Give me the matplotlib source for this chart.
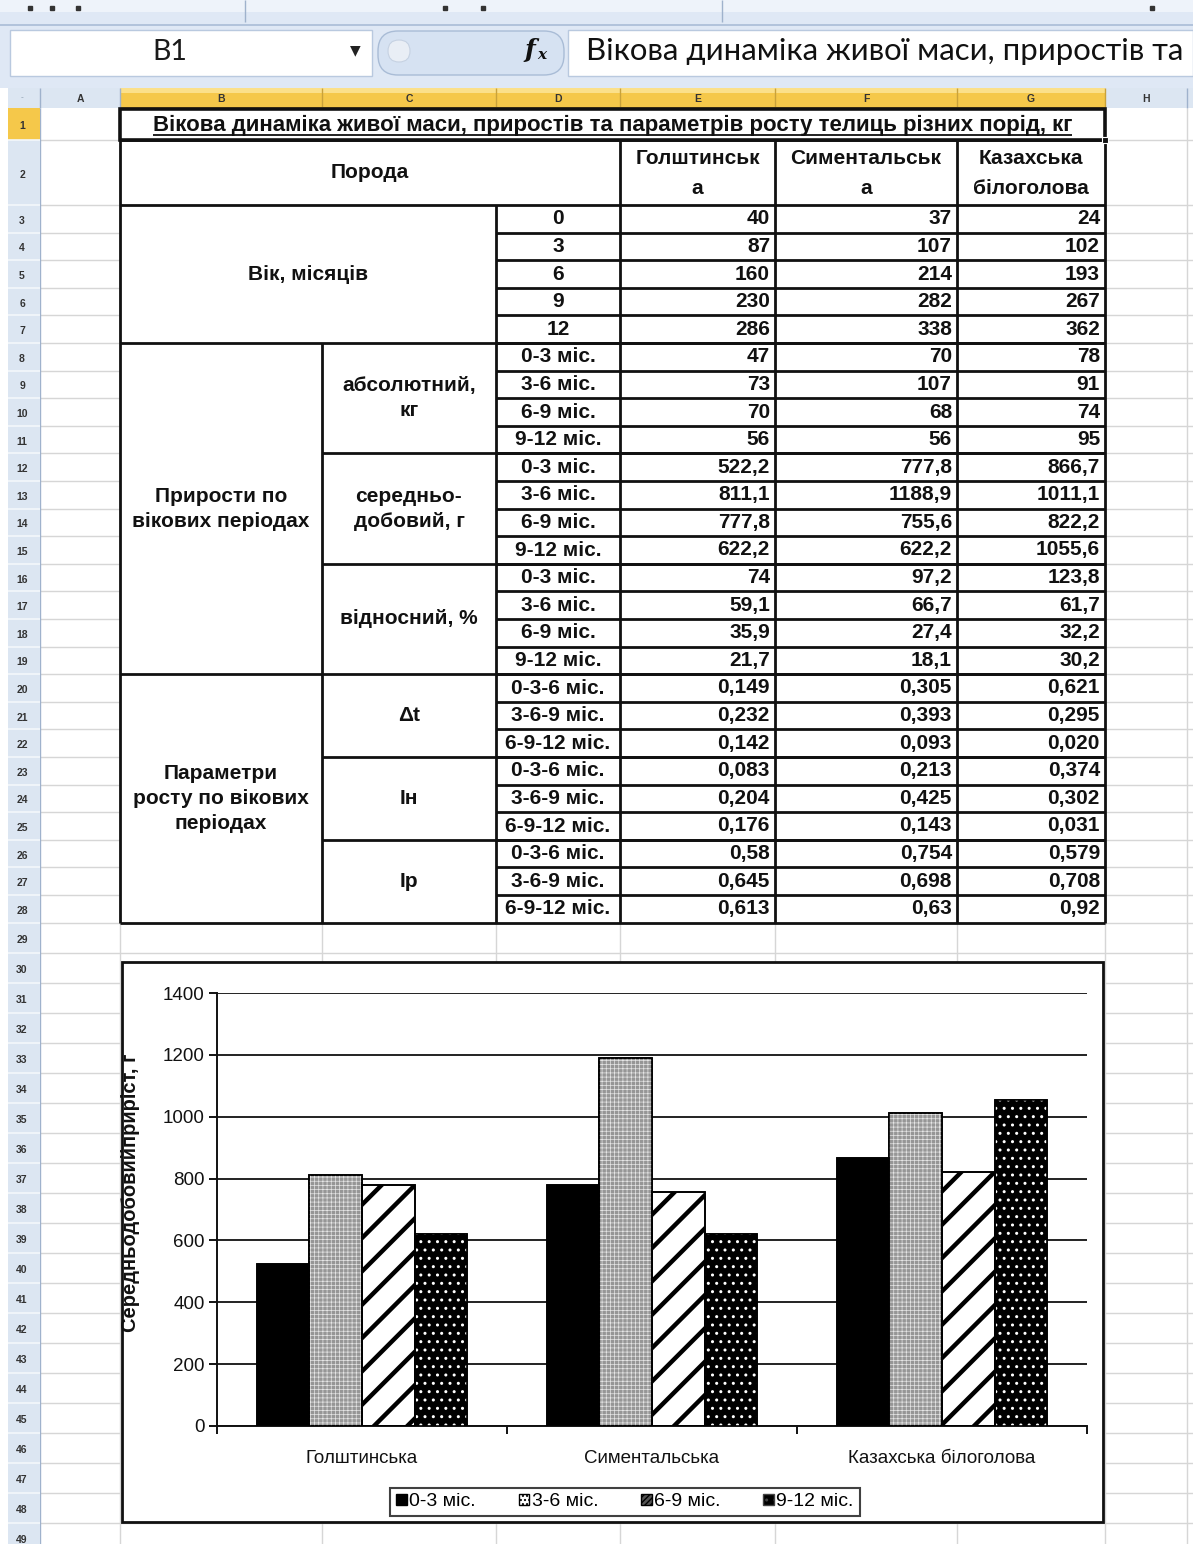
import matplotlib
matplotlib.use("Agg")
import matplotlib.pyplot as plt
from matplotlib.patches import Rectangle, FancyBboxPatch, Patch
import numpy as np

# ---------------- data ----------------
breeds = ["Голштинська", "Симентальська", "Казахська білоголова"]
breed_headers = [("Голштинськ", "а"), ("Симентальськ", "а"), ("Казахська", "білоголова")]
ages = ["0", "3", "6", "9", "12"]
live_hol = [40, 87, 160, 230, 286]
live_sim = [37, 107, 214, 282, 338]
live_kaz = [24, 102, 193, 267, 362]
periods = ["0-3 міс.", "3-6 міс.", "6-9 міс.", "9-12 міс."]
abs_hol = [47, 73, 70, 56]
abs_sim = [70, 107, 68, 56]
abs_kaz = [78, 91, 74, 95]
daily_hol = [522.2, 811.1, 777.8, 622.2]
daily_sim = [777.8, 1188.9, 755.6, 622.2]
daily_kaz = [866.7, 1011.1, 822.2, 1055.6]
rel_hol = [74, 59.1, 35.9, 21.7]
rel_sim = [97.2, 66.7, 27.4, 18.1]
rel_kaz = [123.8, 61.7, 32.2, 30.2]
param_periods = ["0-3-6 міс.", "3-6-9 міс.", "6-9-12 міс."]
dt_hol = [0.149, 0.232, 0.142]
dt_sim = [0.305, 0.393, 0.093]
dt_kaz = [0.621, 0.295, 0.020]
in_hol = [0.083, 0.204, 0.176]
in_sim = [0.213, 0.425, 0.143]
in_kaz = [0.374, 0.302, 0.031]
ip_hol = [0.58, 0.645, 0.613]
ip_sim = [0.754, 0.698, 0.63]
ip_kaz = [0.579, 0.708, 0.92]
yticks = [0, 200, 400, 600, 800, 1000, 1200, 1400]
title = "Вікова динаміка живої маси, приростів та параметрів росту телиць різних порід, кг"
formula_text = "Вікова динаміка живої маси, приростів та"
col_letters = ["A", "B", "C", "D", "E", "F", "G", "H"]

# ---------------- figure ----------------
W, H = 1193, 1544
FONT = ["Liberation Sans", "DejaVu Sans"]
plt.rcParams["font.family"] = FONT
fig = plt.figure(figsize=(W / 100, H / 100), dpi=100)
bg = fig.add_axes([0, 0, 1, 1])
bg.set_xlim(0, W)
bg.set_ylim(H, 0)
bg.axis("off")

cols = {"A": (40, 120), "B": (120, 322), "C": (322, 496), "D": (496, 620),
        "E": (620, 775), "F": (775, 957), "G": (957, 1105), "H": (1105, 1187)}


def rtop(k):
    if k == 1:
        return 108
    if k == 2:
        return 140
    if k <= 29:
        return 205 + (k - 3) * 27.6
    return 922.6 + (k - 29) * 30.0


def rmid(k1, k2=None):
    k2 = k1 if k2 is None else k2
    return (rtop(k1) + rtop(k2 + 1)) / 2


def rect(x0, y0, x1, y1, **kw):
    bg.add_patch(Rectangle((x0, y0), x1 - x0, y1 - y0, **kw))


def hline(y, x0, x1, **kw):
    bg.plot([x0, x1], [y, y], solid_capstyle="butt", **kw)


def vline(x, y0, y1, **kw):
    bg.plot([x, x], [y0, y1], solid_capstyle="butt", **kw)


# ---- toolbar / formula bar ----
rect(0, 0, W, 88, facecolor="#dfe8f5", edgecolor="none")
rect(0, 0, W, 12, facecolor="#eef3fa", edgecolor="none")
hline(25, 0, W, color="#a9bcd6", lw=1.2)
for xx in [30, 52, 78, 445, 483, 1152]:
    bg.plot([xx], [8], marker="s", ms=2.5, color="#333333")
vline(245, 0, 22, color="#9fb2cc", lw=1)
vline(722, 0, 22, color="#9fb2cc", lw=1)
rect(10, 30, 372, 76, facecolor="white", edgecolor="#b9c9df", lw=1)
bg.add_patch(FancyBboxPatch((378, 31), 186, 44, boxstyle="round,pad=0,rounding_size=20",
                            facecolor="#d6e2f2", edgecolor="#a9bcd6", lw=1))
bg.add_patch(FancyBboxPatch((388, 40), 22, 22, boxstyle="round,pad=0,rounding_size=11",
                            facecolor="#e9eef5", edgecolor="#c6d2e2", lw=0.8))
rect(568, 30, W, 76, facecolor="white", edgecolor="#b9c9df", lw=1)
bg.text(152, 52, "B1", fontsize=20.5, family=["Lato", "DejaVu Sans"], va="center", ha="left", color="#1a1a1a")
bg.text(355, 50, "▼", fontsize=10, family="DejaVu Sans", va="center", ha="center", color="#222222")
bg.text(524, 50, "f", fontsize=18, family="DejaVu Serif", style="italic", weight="bold",
        va="center", ha="left", color="#111111")
bg.text(537, 55, "x", fontsize=11, family="DejaVu Serif", style="italic", weight="bold",
        va="center", ha="left", color="#111111")
bg.text(586, 51, formula_text, fontsize=22.4, family=["Lato", "DejaVu Sans"], va="center",
        ha="left", color="#111111", clip_on=True)

# ---- column headers ----
hdr_y0, hdr_y1 = 88, 108
rect(8, hdr_y0, W, hdr_y1, facecolor="#dce6f2", edgecolor="none")
for c in "BCDEFG":
    x0, x1 = cols[c]
    rect(x0, hdr_y0, x1, hdr_y1, facecolor="#f5c84a", edgecolor="none")
    rect(x0, hdr_y0, x1, hdr_y0 + 5, facecolor="#fbe08a", edgecolor="none")
hline(hdr_y1, cols["B"][0], cols["G"][1], color="#d49a18", lw=2)
for c in col_letters:
    x0, x1 = cols[c]
    vline(x1, hdr_y0, hdr_y1, color="#9fb2cc" if c in "AH" else "#c9a23a", lw=1)
    bg.text((x0 + x1) / 2, (hdr_y0 + hdr_y1) / 2 + 1, c, fontsize=7.5, weight="bold",
            ha="center", va="center", color="#333333")
vline(40, hdr_y0, hdr_y1, color="#9fb2cc", lw=1)
bg.text(22, 98, "-", fontsize=6, ha="center", va="center", color="#8899aa")

# ---- sheet gridlines ----
grid_c = "#d6d6d6"
for k in range(1, 50):
    hline(rtop(k + 1), 40, W, color=grid_c, lw=1, zorder=0.5)
for c in col_letters:
    vline(cols[c][1], hdr_y1, H, color=grid_c, lw=1, zorder=0.5)
vline(40, hdr_y1, H, color="#9fb2cc", lw=1, zorder=0.6)

# ---- row headers ----
rect(8, hdr_y1, 40, H, facecolor="#dce6f2", edgecolor="none", zorder=0.7)
rect(8, rtop(1), 40, rtop(2), facecolor="#f5c84a", edgecolor="none", zorder=0.8)
for k in range(1, 50):
    hline(rtop(k + 1), 8, 40, color="#f4f7fb", lw=1.2, zorder=0.9)
    bg.text(22, rmid(k) + 2, str(k), fontsize=7.5, weight="bold", ha="center",
            va="center", color="#333333")

# ---- table ----
TX = 1105
rect(120, 108, TX, 922.6, facecolor="white", edgecolor="none", zorder=1)
tfs = 15
tkw = dict(fontsize=tfs, color="#111111", weight="bold", zorder=5)


def fmt(v, dec=None):
    s = f"{v:.{dec}f}" if dec is not None else f"{v:g}"
    return s.replace(".", ",")


def centered(x, y, s, **kw):
    d = dict(tkw)
    d.update(kw)
    bg.text(x, y, s, ha="center", va="center", **d)


def right(cname, y, s):
    bg.text(cols[cname][1] - 5, y, s, ha="right", va="center", **tkw)


# title row
title_t = bg.text((120 + TX) / 2, rmid(1) + 1, title, ha="center", va="center",
                  fontsize=16, weight="bold", color="#111111", zorder=5)

# header row 2
centered((120 + 620) / 2, 172, "Порода")
for (l1, l2), c in zip(breed_headers, "EFG"):
    xc = sum(cols[c]) / 2
    centered(xc, 158, l1)
    centered(xc, 188, l2)

# live weight block
centered((120 + 496) / 2, rmid(3, 7), "Вік, місяців")
dcx = sum(cols["D"]) / 2
for i, a in enumerate(ages):
    k = 3 + i
    centered(dcx, rmid(k), a)
    right("E", rmid(k), fmt(live_hol[i]))
    right("F", rmid(k), fmt(live_sim[i]))
    right("G", rmid(k), fmt(live_kaz[i]))

# gains block
ccx = sum(cols["C"]) / 2
bcx = sum(cols["B"]) / 2
centered(bcx, rmid(8, 19), "Прирости по\nвікових періодах", linespacing=1.4)
gain_blocks = [("абсолютний,\nкг", abs_hol, abs_sim, abs_kaz, 8),
               ("середньо-\nдобовий, г", daily_hol, daily_sim, daily_kaz, 12),
               ("відносний, %", rel_hol, rel_sim, rel_kaz, 16)]
for lab, h_, s_, k_, k0 in gain_blocks:
    centered(ccx, rmid(k0, k0 + 3), lab, linespacing=1.4)
    for i, p in enumerate(periods):
        k = k0 + i
        centered(dcx, rmid(k), p)
        right("E", rmid(k), fmt(h_[i]))
        right("F", rmid(k), fmt(s_[i]))
        right("G", rmid(k), fmt(k_[i]))

# parameters block
centered(bcx, rmid(20, 28), "Параметри\nросту по вікових\nперіодах", linespacing=1.4)
param_blocks = [("Δt", dt_hol, dt_sim, dt_kaz, 20, 3),
                ("Ін", in_hol, in_sim, in_kaz, 23, 3),
                ("Ір", ip_hol, ip_sim, ip_kaz, 26, None)]
for lab, h_, s_, k_, k0, dec in param_blocks:
    centered(ccx, rmid(k0, k0 + 2), lab)
    for i, p in enumerate(param_periods):
        k = k0 + i
        centered(dcx, rmid(k), p)
        right("E", rmid(k), fmt(h_[i], dec))
        right("F", rmid(k), fmt(s_[i], dec))
        right("G", rmid(k), fmt(k_[i], dec))

# borders
bk = dict(color="#111111", lw=2.0, zorder=4)
ybot = rtop(29)
for xx in (120, 620, 775, 957, TX):
    vline(xx, 140, ybot, **bk)
vline(496, 205, ybot, **bk)
vline(322, rtop(8), ybot, **bk)
for yy in (140, 205, rtop(8), rtop(20), ybot):
    hline(yy, 120, TX, **bk)
for k in range(4, 29):
    hline(rtop(k), 496, TX, **bk)
for k in (12, 16, 23, 26):
    hline(rtop(k), 322, TX, **bk)
# selection border around B1:G1
rect(120, 109, TX, 140, facecolor="none", edgecolor="#111111", lw=2.6, zorder=6)
rect(TX - 3, 137, TX + 3, 143, facecolor="#111111", edgecolor="white", lw=0.8, zorder=7)

# ---- chart area ----
rect(122, 962, 1103, 1522, facecolor="white", edgecolor="#111111", lw=2, zorder=2)

ax_l, ax_r, ax_t, ax_b = 217, 1087, 993, 1426
ax = fig.add_axes([ax_l / W, (H - ax_b) / H, (ax_r - ax_l) / W, (ax_b - ax_t) / H])
ax.set_facecolor("none")
x = np.arange(len(breeds))
bw = 1 / 5.5
series_vals = [[daily_hol[i], daily_sim[i], daily_kaz[i]] for i in range(4)]
styles = [
    dict(face="black", hatch=None, hc=None, hlw=1.0, lh=None),
    dict(face="#969696", hatch="++++", hc="#e6e6e6", hlw=0.5, lh="...."),
    dict(face="white", hatch="/", hc="black", hlw=3.2, lh="//////"),
    dict(face="black", hatch="..", hc="white", hlw=1.0, lh=".."),
]
for i, (vals, st) in enumerate(zip(series_vals, styles)):
    xs = x + (i - 1.5) * bw
    ax.bar(xs, vals, bw, color=st["face"], edgecolor="black", linewidth=1.2, zorder=2)
    if st["hatch"]:
        with plt.rc_context({"hatch.linewidth": st["hlw"]}):
            bars = ax.bar(xs, vals, bw, color="none", edgecolor=st["hc"], hatch=st["hatch"],
                          linewidth=0, zorder=3)
            for b in bars:
                if hasattr(b, "set_hatch_linewidth"):
                    b.set_hatch_linewidth(st["hlw"])
    ax.bar(xs, vals, bw, color="none", edgecolor="black", linewidth=1.2, zorder=4)

ax.set_xlim(-0.5, 2.5)
ax.set_ylim(0, 1400)
ax.set_yticks(yticks)
ax.set_yticklabels([str(t) for t in yticks], fontsize=13.5, color="#111111")
ax.yaxis.grid(True, color="#111111", lw=1.3, zorder=0)
ax.set_axisbelow(True)
ax.tick_params(axis="y", direction="out", length=6, width=1.3, pad=3)
ax.set_xticks(x)
ax.set_xticklabels(breeds, fontsize=13.5, color="#111111")
ax.tick_params(axis="x", which="major", length=0, pad=17)
ax.set_xticks([-0.5, 0.5, 1.5, 2.5], minor=True)
ax.tick_params(axis="x", which="minor", direction="out", length=6, width=1.3)
for s in ("top", "right"):
    ax.spines[s].set_visible(False)
for s in ("left", "bottom"):
    ax.spines[s].set_linewidth(1.4)
    ax.spines[s].set_color("#111111")
ax.set_ylabel("Середньодобовийприріст, г", fontsize=14.5, weight="bold", color="#111111")
ax.yaxis.set_label_coords((140 - ax_l) / (ax_r - ax_l), (ax_b - 1193) / (ax_b - ax_t))

handles = [Patch(facecolor=("#555555" if i == 2 else st["face"]) if i != 1 else "white",
                 edgecolor="black" if i != 3 else "#444444",
                 hatch=st["lh"]) for i, st in enumerate(styles)]
leg = fig.legend(handles, periods, loc="center", bbox_to_anchor=(625 / W, 1 - 1502 / H),
                 ncol=4, fontsize=14, frameon=True, fancybox=False, edgecolor="#111111",
                 handlelength=0.55, handleheight=0.55, handletextpad=0.12, columnspacing=2.2,
                 borderpad=0.3)
leg.get_frame().set_linewidth(1.5)

# underline for the title
fig.canvas.draw()
bb = title_t.get_window_extent()
inv = bg.transData.inverted()
(x0, y0), (x1, y1) = inv.transform([(bb.x0, bb.y0), (bb.x1, bb.y1)])
hline(max(y0, y1) - 1, x0, x1, color="#111111", lw=1.3, zorder=6)

fig.savefig("out.png", dpi=100)
